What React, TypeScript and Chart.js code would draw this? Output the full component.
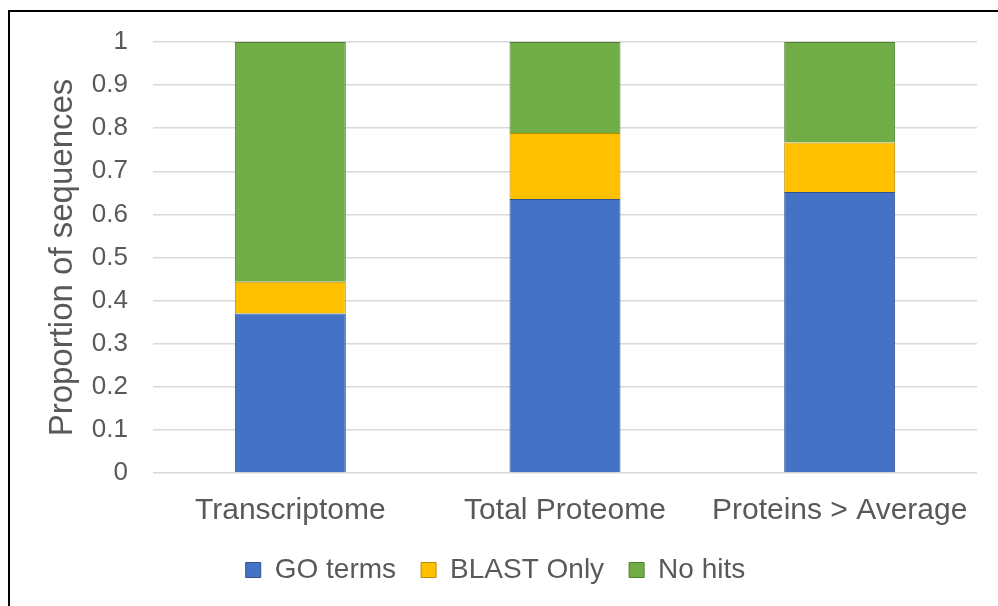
import React, { useEffect, useRef } from "react";
import { Chart, registerables } from "chart.js";

Chart.register(...registerables);

const categories = ["Transcriptome", "Total Proteome", "Proteins > Average"];
const goTerms = [0.37, 0.636, 0.652];
const blastOnly = [0.074, 0.153, 0.115];
const noHits = [0.556, 0.211, 0.233];
const yTicks = [0, 0.1, 0.2, 0.3, 0.4, 0.5, 0.6, 0.7, 0.8, 0.9, 1];

const FONT = "'Liberation Sans', Arial, sans-serif";
const TEXT = "#595959";

const legendShift = {
  id: "legendShift",
  afterLayout(chart: any) {
    if (chart.legend) {
      chart.legend.left -= 13;
      chart.legend.right -= 13;
    }
  },
};

export default function App() {
  const ref = useRef<HTMLCanvasElement | null>(null);

  useEffect(() => {
    if (!ref.current) return;
    const chart = new Chart(ref.current, {
      type: "bar",
      data: {
        labels: categories,
        datasets: [
          { label: "GO terms", data: goTerms, backgroundColor: "#4472C4", borderColor: "#2F528F", borderWidth: 1 },
          { label: "BLAST Only", data: blastOnly, backgroundColor: "#FFC000", borderColor: "#BC8C00", borderWidth: 1 },
          { label: "No hits", data: noHits, backgroundColor: "#70AD47", borderColor: "#507E32", borderWidth: 1 },
        ],
      },
      plugins: [legendShift],
      options: {
        animation: false,
        responsive: false,
        maintainAspectRatio: false,
        layout: { padding: { left: 40, right: 21, top: 42, bottom: 12 } },
        datasets: { bar: { categoryPercentage: 1, barPercentage: 0.404 } },
        plugins: {
          tooltip: { enabled: false },
          legend: {
            position: "bottom",
            labels: {
              font: { family: FONT, size: 28 },
              color: TEXT,
              boxWidth: 15,
              boxHeight: 15,
              padding: 25,
            },
          },
        },
        scales: {
          x: {
            stacked: true,
            grid: { display: false, drawTicks: false },
            border: { display: false },
            afterFit: (axis: any) => {
              axis.height = 58;
            },
            ticks: { font: { family: FONT, size: 30 }, color: TEXT, padding: 20, maxRotation: 0 },
          },
          y: {
            stacked: true,
            min: 0,
            max: 1,
            afterBuildTicks: (axis: any) => {
              axis.ticks = yTicks.map((v) => ({ value: v }));
            },
            afterFit: (axis: any) => {
              axis.width = 113;
            },
            grid: { color: "#d9d9d9", lineWidth: 1.5, drawTicks: false },
            border: { display: false },
            ticks: {
              font: { family: FONT, size: 26 },
              color: TEXT,
              padding: 25,
              callback: (v: any) => String(Math.round(Number(v) * 10) / 10),
            },
            title: {
              display: true,
              text: "Proportion of sequences",
              font: { family: FONT, size: 33 },
              color: TEXT,
              padding: { top: 3, bottom: 0 },
            },
          },
        },
      },
    });
    return () => chart.destroy();
  }, []);

  return (
    <div style={{ position: "absolute", left: 0, top: 0, width: 998, height: 606, background: "#fff", overflow: "hidden" }}>
      <canvas ref={ref} width={998} height={606} style={{ position: "absolute", left: 0, top: 0, width: 998, height: 606 }} />
      <div
        style={{
          position: "absolute",
          left: 8,
          top: 10,
          width: 1000,
          height: 700,
          borderLeft: "2px solid #000",
          borderTop: "2px solid #000",
          pointerEvents: "none",
        }}
      />
    </div>
  );
}
